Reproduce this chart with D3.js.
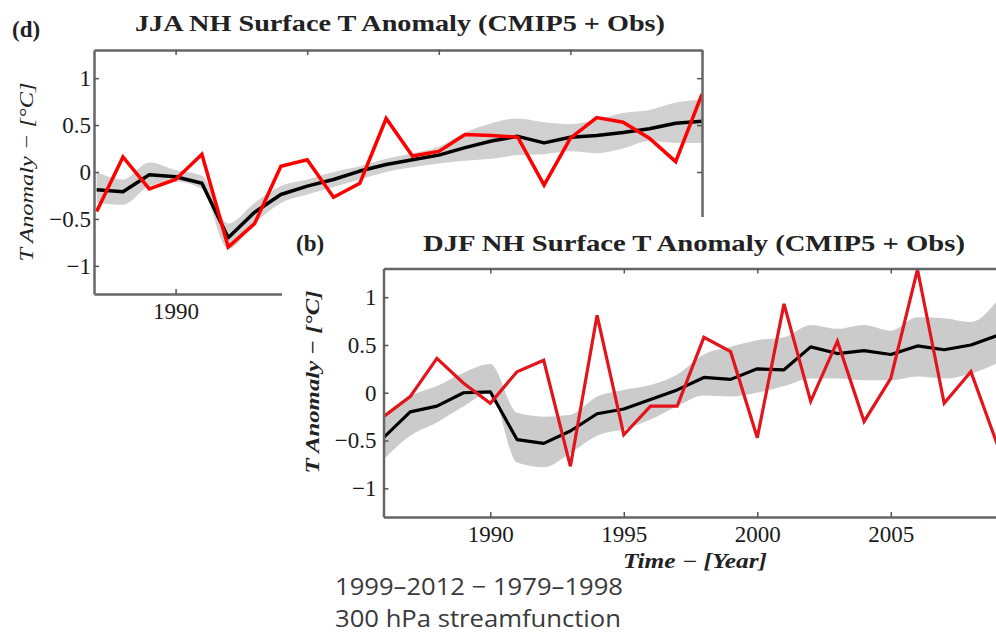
<!DOCTYPE html>
<html>
<head>
<meta charset="utf-8">
<script src="https://cdn.jsdelivr.net/npm/d3@7"></script>
<style>
  body { margin: 0; background: #fff; }
  svg { display: block; }
  .tick text { font-family: "Liberation Serif", "Times New Roman", serif; fill: #1a1a1a; }
</style>
</head>
<body>
<div id="chart"></div>
<script>
// panel (d): JJA, CMIP5 mean (black), model spread (gray), obs (red)
var jjaYears = [1987, 1988, 1989, 1990, 1991, 1992, 1993, 1994, 1995, 1996, 1997, 1998,
                1999, 2000, 2001, 2002, 2003, 2004, 2005, 2006, 2007, 2008, 2009, 2010];
var jjaObs   = [-0.42, 0.16, -0.18, -0.08, 0.19, -0.80, -0.55, 0.06, 0.13, -0.27, -0.12, 0.57,
                0.17, 0.22, 0.40, 0.39, 0.37, -0.14, 0.36, 0.58, 0.53, 0.36, 0.11, 0.83];
var jjaMean  = [-0.19, -0.21, -0.03, -0.05, -0.12, -0.70, -0.43, -0.24, -0.15, -0.08, 0.01, 0.08,
                0.13, 0.18, 0.26, 0.33, 0.38, 0.31, 0.37, 0.39, 0.42, 0.46, 0.52, 0.54];
var jjaHigh  = [0.00, -0.08, 0.10, 0.02, -0.04, -0.55, -0.33, -0.15, -0.08, 0.00, 0.06, 0.14,
                0.20, 0.27, 0.42, 0.52, 0.57, 0.53, 0.51, 0.56, 0.63, 0.66, 0.74, 0.77];
var jjaLow   = [-0.33, -0.35, -0.15, -0.10, -0.18, -0.82, -0.55, -0.33, -0.24, -0.16, -0.08, 0.00,
                0.05, 0.09, 0.12, 0.14, 0.18, 0.19, 0.22, 0.20, 0.25, 0.33, 0.31, 0.31];

// panel (b): DJF
var djfYears = [1986, 1987, 1988, 1989, 1990, 1991, 1992, 1993, 1994, 1995, 1996, 1997,
                1998, 1999, 2000, 2001, 2002, 2003, 2004, 2005, 2006, 2007, 2008, 2009];
var djfObs   = [-0.25, -0.04, 0.36, 0.10, -0.11, 0.22, 0.34, -0.77, 0.81, -0.44, -0.14, -0.14,
                0.58, 0.43, -0.47, 0.93, -0.09, 0.54, -0.30, 0.15, 1.29, -0.11, 0.22, -0.55];
var djfMean  = [-0.47, -0.20, -0.14, 0.00, 0.01, -0.49, -0.53, -0.40, -0.22, -0.17, -0.07, 0.03,
                0.16, 0.14, 0.25, 0.24, 0.48, 0.41, 0.44, 0.40, 0.49, 0.45, 0.50, 0.60];
var djfHigh  = [-0.28, -0.04, 0.07, 0.21, 0.30, -0.21, -0.25, -0.23, -0.04, 0.03, 0.08, 0.19,
                0.40, 0.48, 0.55, 0.58, 0.71, 0.67, 0.71, 0.65, 0.79, 0.78, 0.74, 0.97];
var djfLow   = [-0.70, -0.45, -0.31, -0.14, 0.00, -0.73, -0.78, -0.63, -0.45, -0.38, -0.28, -0.14,
                -0.03, -0.04, 0.00, 0.07, 0.15, 0.15, 0.13, 0.13, 0.17, 0.15, 0.20, 0.31];

var yTicks = [-1, -0.5, 0, 0.5, 1];
var xTicksD = [1990, 1995, 2000, 2005, 2010];
var xTicksB = [1990, 1995, 2000, 2005];

var W = 996, H = 634;
var svg = d3.select('#chart').append('svg')
    .attr('width', W)
    .attr('height', H);

var fmt = d3.format('~g');

function drawPanel(g, p) {
    var x = d3.scaleLinear().domain(p.xDomain).range([p.left, p.right]);
    var y = d3.scaleLinear().domain([-1.3, 1.3]).range([p.bottom, p.top]);

    var clipId = 'clip-' + p.id;
    g.append('clipPath').attr('id', clipId)
        .append('rect')
        .attr('x', p.left).attr('y', p.top)
        .attr('width', p.right - p.left).attr('height', p.bottom - p.top);

    var rows = p.years.map(function(yr, i) {
        return { yr: yr, obs: p.obs[i], mean: p.mean[i], hi: p.high[i], lo: p.low[i] };
    });

    var plot = g.append('g').attr('clip-path', 'url(#' + clipId + ')');

    plot.append('path')
        .datum(rows)
        .attr('fill', p.band)
        .attr('d', d3.area()
            .x(function(d) { return x(d.yr); })
            .y0(function(d) { return y(d.lo); })
            .y1(function(d) { return y(d.hi); })
            .curve(d3.curveMonotoneX));

    plot.append('path')
        .datum(rows)
        .attr('fill', 'none')
        .attr('stroke', '#000')
        .attr('stroke-width', p.lw)
        .attr('stroke-linejoin', 'round')
        .attr('d', d3.line().x(function(d) { return x(d.yr); }).y(function(d) { return y(d.mean); }));

    plot.append('path')
        .datum(rows)
        .attr('fill', 'none')
        .attr('stroke', p.red)
        .attr('stroke-width', p.lw)
        .attr('stroke-linejoin', 'miter')
        .attr('d', d3.line().x(function(d) { return x(d.yr); }).y(function(d) { return y(d.obs); }));

    // axes: inward ticks on all four sides
    function style(sel) {
        sel.select('.domain').attr('stroke', '#666').attr('stroke-width', 2.5);
        sel.selectAll('.tick line').attr('stroke', '#555').attr('stroke-width', 1.5);
        sel.selectAll('.tick text').style('font-size', p.tickFont + 'px');
    }

    g.append('g').attr('transform', 'translate(0,' + p.bottom + ')')
        .call(d3.axisBottom(x).tickValues(p.xTicks).tickSize(-5).tickSizeOuter(0)
            .tickPadding(p.xPad).tickFormat(d3.format('d')))
        .call(style)
        .selectAll('.tick text').attr('dy', '0.85em');
    g.append('g').attr('transform', 'translate(0,' + p.top + ')')
        .call(d3.axisTop(x).tickValues(p.xTicks).tickSize(-5).tickSizeOuter(0).tickFormat(''))
        .call(style);
    g.append('g').attr('transform', 'translate(' + p.left + ',0)')
        .call(d3.axisLeft(y).tickValues(yTicks).tickSize(-5).tickSizeOuter(0)
            .tickPadding(p.yPad).tickFormat(fmt))
        .call(style);
    g.append('g').attr('transform', 'translate(' + p.right + ',0)')
        .call(d3.axisRight(y).tickValues(yTicks).tickSize(-5).tickSizeOuter(0).tickFormat(''))
        .call(style);

    // panel letter and title
    g.append('text')
        .attr('x', p.letterX).attr('y', p.letterY)
        .style('font', 'bold 23px "Liberation Serif", serif')
        .attr('fill', '#222')
        .text(p.letter);
    g.append('text')
        .attr('x', p.titleX).attr('y', p.titleY)
        .attr('textLength', p.titleW).attr('lengthAdjust', 'spacingAndGlyphs')
        .style('font', 'bold 23px "Liberation Serif", serif')
        .attr('fill', '#222')
        .text(p.title);

    g.append('text')
        .attr('transform', 'translate(' + p.ylabX + ',' + p.ylabY + ')rotate(-90)')
        .attr('text-anchor', 'middle')
        .attr('textLength', p.ylabW).attr('lengthAdjust', 'spacingAndGlyphs')
        .style('font', 'italic ' + p.ylabWeight + ' 19px "Liberation Serif", serif')
        .attr('fill', '#222')
        .text('T Anomaly \u2212 [\u00B0C]');
}

drawPanel(svg.append('g'), {
    id: 'd', years: jjaYears, obs: jjaObs, mean: jjaMean, high: jjaHigh, low: jjaLow,
    xDomain: [1986.9, 2010], xTicks: xTicksD, left: 94, right: 702, top: 50, bottom: 294,
    band: '#d0d0d0', red: '#ff0000', lw: 3.5, tickFont: 23, xPad: 5, yPad: 3,
    letter: '(d)', letterX: 12, letterY: 37,
    title: 'JJA NH Surface T Anomaly (CMIP5 + Obs)', titleX: 135, titleY: 31, titleW: 530,
    ylabX: 33, ylabY: 172, ylabW: 179, ylabWeight: 'normal'
});

// panel (b) pasted on top of (d)
var gb = svg.append('g');
gb.append('rect')
    .attr('x', 282).attr('y', 217)
    .attr('width', W - 282).attr('height', H - 217)
    .attr('fill', '#fff');

drawPanel(gb, {
    id: 'b', years: djfYears, obs: djfObs, mean: djfMean, high: djfHigh, low: djfLow,
    xDomain: [1986, 2012], xTicks: xTicksB, left: 383.5, right: 1077.7, top: 268.5, bottom: 517,
    band: '#cbcbcb', red: '#e2141c', lw: 3.2, tickFont: 23, xPad: 5, yPad: 7,
    letter: '(b)', letterX: 296, letterY: 251,
    title: 'DJF NH Surface T Anomaly (CMIP5 + Obs)', titleX: 423, titleY: 251, titleW: 542,
    ylabX: 319, ylabY: 382, ylabW: 183, ylabWeight: 'bold'
});

gb.append('text')
    .attr('x', 695).attr('y', 568)
    .attr('text-anchor', 'middle')
    .attr('textLength', 144).attr('lengthAdjust', 'spacingAndGlyphs')
    .style('font', 'italic bold 20px "Liberation Serif", serif')
    .attr('fill', '#222')
    .text('Time \u2212 [Year]');

// caption fragment from the neighbouring figure
var caption = ['1999\u20132012 \u2212 1979\u20131998', '300 hPa streamfunction'];
var captionW = [288, 286];
svg.selectAll('text.cap')
    .data(caption)
    .enter().append('text')
    .attr('class', 'cap')
    .attr('x', 335)
    .attr('y', function(d, i) { return 595 + i * 32; })
    .attr('textLength', function(d, i) { return captionW[i]; })
    .attr('lengthAdjust', 'spacingAndGlyphs')
    .style('font', '24px "Open Sans", "Noto Sans", sans-serif')
    .attr('fill', '#3a3a3a')
    .text(function(d) { return d; });
</script>
</body>
</html>
